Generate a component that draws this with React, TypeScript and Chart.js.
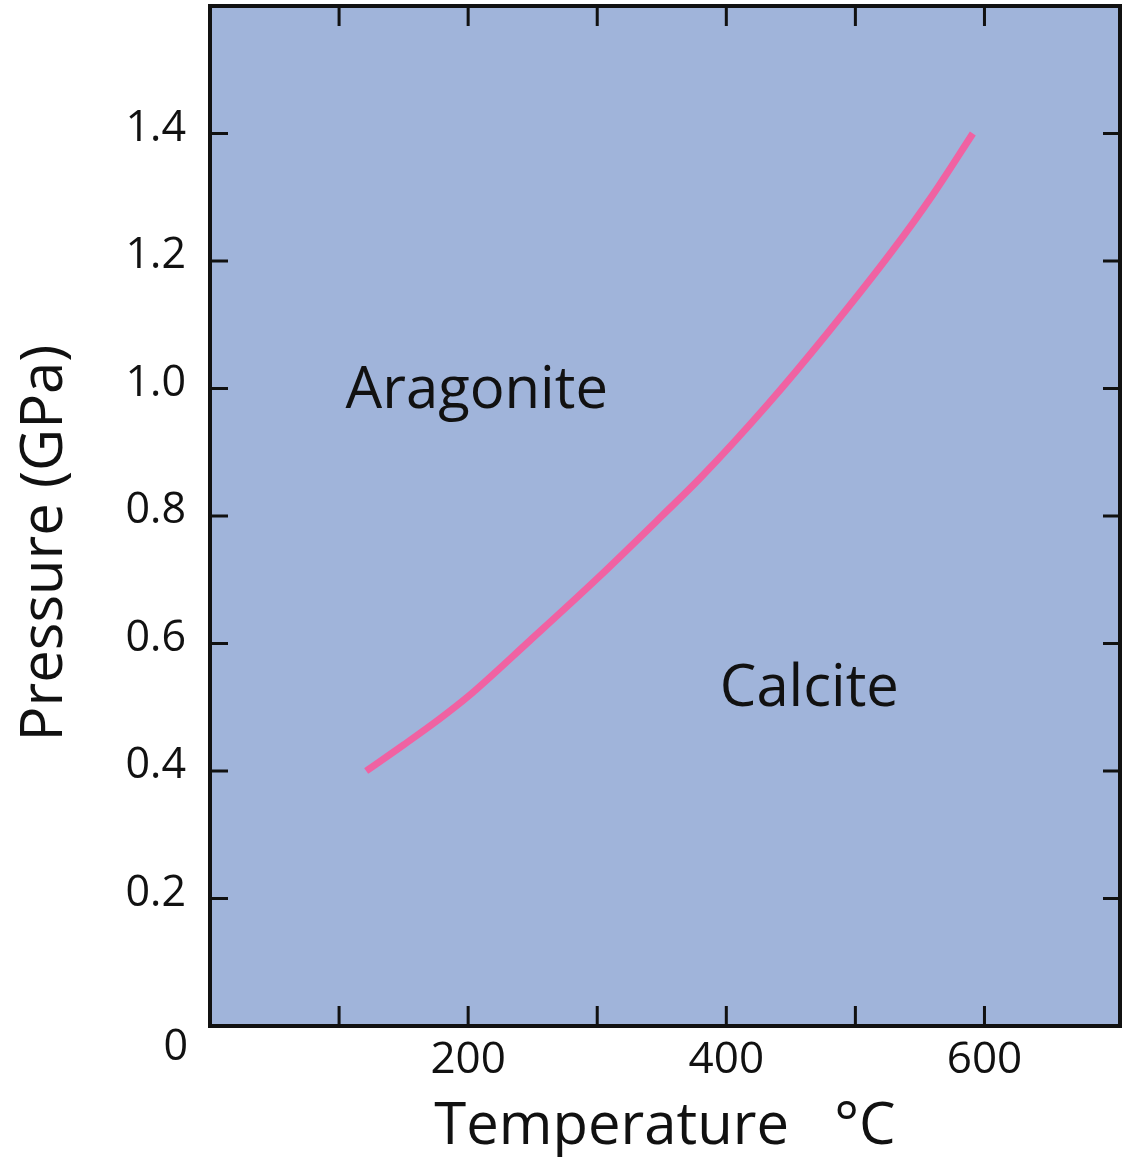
import React, { useEffect, useRef } from "react";
import { Chart, registerables } from "chart.js";

Chart.register(...registerables);

// Calcite–aragonite phase boundary
const temperatureC = [121, 150, 178, 200, 248, 300, 350, 380, 432, 478, 529, 560, 591];
const pressureGPa = [0.4, 0.441, 0.482, 0.517, 0.605, 0.702, 0.8, 0.86, 0.975, 1.086, 1.217, 1.304, 1.4];

const xTickValues = [0, 100, 200, 300, 400, 500, 600, 700];
const yTickValues = [0, 0.2, 0.4, 0.6, 0.8, 1.0, 1.2, 1.4, 1.6];
const xLabelValues = [200, 400, 600];
const yLabelValues = [0.2, 0.4, 0.6, 0.8, 1.0, 1.2, 1.4];

const phaseLabels = ["Aragonite", "Calcite"];
const phaseLabelT = [105, 395];
const phaseLabelP = [0.97, 0.502];

const FONT = "'Open Sans', 'Noto Sans', sans-serif";
const FILL = "rgb(160,180,218)";
const LINE = "rgb(240,98,162)";

const framePlugin = {
  id: "frame",
  beforeDatasetsDraw(chart: any) {
    const { ctx, chartArea: a } = chart;
    ctx.save();
    ctx.fillStyle = FILL;
    ctx.fillRect(a.left, a.top, a.right - a.left, a.bottom - a.top);
    ctx.restore();
  },
  afterDraw(chart: any) {
    const { ctx, chartArea: a, scales } = chart;
    const xs = scales.x;
    const ys = scales.y;
    ctx.save();
    ctx.strokeStyle = "#111";
    ctx.lineWidth = 3;
    ctx.beginPath();
    xTickValues.forEach((v) => {
      if (v <= 0 || v >= 700) return;
      const px = xs.getPixelForValue(v);
      ctx.moveTo(px, a.bottom);
      ctx.lineTo(px, a.bottom - 20);
      ctx.moveTo(px, a.top);
      ctx.lineTo(px, a.top + 20);
    });
    yLabelValues.forEach((v) => {
      const py = ys.getPixelForValue(v);
      ctx.moveTo(a.left, py);
      ctx.lineTo(a.left + 18, py);
      ctx.moveTo(a.right, py);
      ctx.lineTo(a.right - 17, py);
    });
    ctx.stroke();
    ctx.lineWidth = 4;
    ctx.strokeRect(a.left, a.top, a.right - a.left, a.bottom - a.top);

    ctx.fillStyle = "#111";
    ctx.font = `58px ${FONT}`;
    ctx.textAlign = "left";
    ctx.textBaseline = "alphabetic";
    phaseLabels.forEach((t, i) => {
      ctx.fillText(t, xs.getPixelForValue(phaseLabelT[i]), ys.getPixelForValue(phaseLabelP[i]));
    });

    // origin label
    ctx.font = `43px ${FONT}`;
    ctx.textAlign = "right";
    ctx.fillText("0", a.left - 22, ys.getPixelForValue(0) + 34);

    // y axis title
    ctx.save();
    ctx.translate(62, (a.top + a.bottom) / 2 + 27);
    ctx.rotate(-Math.PI / 2);
    ctx.font = `58px ${FONT}`;
    ctx.textAlign = "center";
    ctx.textBaseline = "alphabetic";
    ctx.fillText("Pressure (GPa)", 0, 0);
    ctx.restore();
    ctx.restore();
  },
};

export default function App() {
  const ref = useRef<HTMLCanvasElement | null>(null);
  useEffect(() => {
    if (!ref.current) return;
    const chart = new Chart(ref.current, {
      type: "line",
      data: {
        datasets: [
          {
            data: temperatureC.map((t, i) => ({ x: t, y: pressureGPa[i] })),
            borderColor: LINE,
            borderWidth: 7,
            borderCapStyle: "butt",
            pointRadius: 0,
            fill: false,
            tension: 0.4,
            cubicInterpolationMode: "monotone",
          },
        ],
      },
      options: {
        animation: false,
        responsive: false,
        layout: { padding: { left: 0, right: 6, top: 6, bottom: 0 } },
        plugins: { legend: { display: false }, tooltip: { enabled: false } },
        scales: {
          x: {
            type: "linear",
            min: 0,
            max: 705,
            grid: { display: false, drawTicks: false },
            border: { display: false },
            afterBuildTicks: (s: any) => {
              s.ticks = xTickValues.map((v) => ({ value: v }));
            },
            ticks: {
              autoSkip: false,
              maxRotation: 0,
              minRotation: 0,
              padding: 8,
              color: "#111",
              font: { family: FONT, size: 44 },
              callback: (v: any) => {
                const n = Math.round(Number(v));
                return xLabelValues.includes(n) ? String(n) : "";
              },
            },
            title: {
              display: true,
              text: "Temperature   °C",
              color: "#111",
              font: { family: FONT, size: 58 },
              padding: { top: 0, bottom: -5 },
            },
            afterFit: (s: any) => {
              s.height = 131;
              s.paddingLeft = 0;
              s.paddingRight = 0;
            },
          },
          y: {
            type: "linear",
            min: 0,
            max: 1.6,
            grid: { display: false, drawTicks: false },
            border: { display: false },
            afterBuildTicks: (s: any) => {
              s.ticks = yTickValues.map((v) => ({ value: v }));
            },
            ticks: {
              autoSkip: false,
              padding: 24,
              labelOffset: -5,
              color: "#111",
              font: { family: FONT, size: 43 },
              callback: (v: any) => {
                const n = Math.round(Number(v) * 10) / 10;
                return yLabelValues.includes(n) ? n.toFixed(1) : "";
              },
            },
            afterFit: (s: any) => {
              s.width = 210;
              s.paddingTop = 0;
              s.paddingBottom = 0;
            },
          },
        },
      },
      plugins: [framePlugin],
    } as any);
    return () => chart.destroy();
  }, []);
  return (
    <div style={{ position: "absolute", left: 0, top: 0, width: 1126, height: 1157, background: "#fff" }}>
      <canvas ref={ref} width={1126} height={1157} style={{ display: "block" }} />
    </div>
  );
}
